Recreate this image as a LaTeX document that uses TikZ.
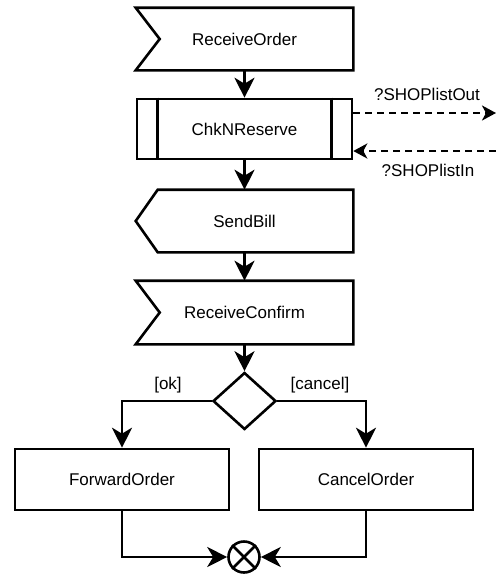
\documentclass[tikz,border=0pt]{standalone}
\usepackage{fontspec}
\setmainfont{Liberation Sans}
\usetikzlibrary{arrows.meta,shapes.geometric}
\begin{document}
\begin{tikzpicture}[x=1pt,y=-1pt, line width=2.6pt, line join=miter,
  txt/.style={font=\fontsize{17}{20}\selectfont},
  box/.style={txt, draw=none, rectangle, minimum width=215pt, minimum height=60pt, inner sep=0pt},
  plainbox/.style={box, draw, minimum width=214pt, minimum height=61pt},
  flow/.style={-{Stealth[length=20pt,width=20pt,inset=6pt]}},
  msg/.style={dash pattern=on 7pt off 5pt, -{Stealth[length=14pt,width=15pt,inset=4pt]}},
  lbl/.style={txt, inner sep=0pt}]
\useasboundingbox (0,0) rectangle (496,574);

% ReceiveOrder
\node[box] (ro) at (244.5,39) {ReceiveOrder};
\draw (ro.north west) -- (ro.north east) -- (ro.south east) -- (ro.south west) -- ([xshift=24pt]ro.west) -- cycle;

% ChkNReserve
\node[box, draw] (cr) at (244.5,129) {ChkNReserve};
\draw ([xshift=22pt]cr.north west) -- ([xshift=22pt]cr.south west);
\draw ([xshift=-22pt]cr.north east) -- ([xshift=-22pt]cr.south east);

% SendBill
\node[box] (sb) at (244.5,221) {SendBill};
\draw (sb.west) -- ([xshift=22pt]sb.north west) -- (sb.north east) -- (sb.south east) -- ([xshift=22pt]sb.south west) -- cycle;

% ReceiveConfirm
\node[box, minimum height=61pt] (rc) at (244.5,312.5) {ReceiveConfirm};
\draw (rc.north west) -- (rc.north east) -- (rc.south east) -- (rc.south west) -- ([xshift=24pt]rc.west) -- cycle;

% decision
\node[draw, diamond, minimum width=63pt, minimum height=57pt, inner sep=0pt] (dec) at (244.5,401) {};

% actions
\node[plainbox] (fo) at (122,479.5) {ForwardOrder};
\node[plainbox] (co) at (366,479.5) {CancelOrder};

% merge
\node[draw, circle, minimum size=31pt, inner sep=0pt] (end) at (244,557) {};
\draw (end.north west) -- (end.south east);
\draw (end.north east) -- (end.south west);

% connectors
\draw[flow] (ro.south) -- (cr.north);
\draw[flow] (cr.south) -- (sb.north);
\draw[flow] (sb.south) -- (rc.north);
\draw[flow] (rc.south) -- (dec.north);
\draw[flow] (dec.west) -| (fo.north);
\draw[flow] (dec.east) -| (co.north);
\draw[flow] (fo.south) |- (end.west);
\draw[flow] (co.south) |- (end.east);

% guards
\node[lbl] (ok) at (168,385) {[ok]};
\node[lbl] (cancel) at (320,385) {[cancel]};

% messages
\coordinate (outend) at (496,113);
\coordinate (inend) at (496,151);
\draw[msg] (cr.east |- outend) -- (outend);
\draw[msg] (inend) -- (cr.east |- inend);
\node[lbl] (outlbl) at (427,94) {?SHOPlistOut};
\node[lbl] (inlbl) at (428,170) {?SHOPlistIn};
\end{tikzpicture}
\end{document}
